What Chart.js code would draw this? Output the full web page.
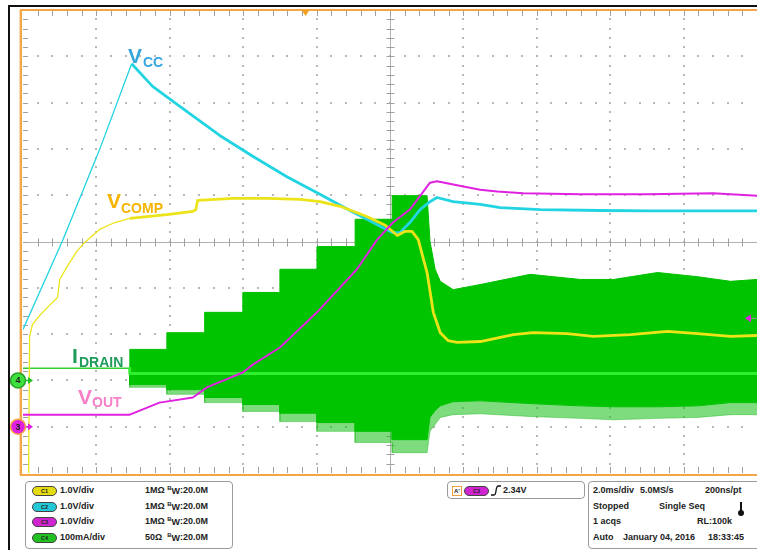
<!DOCTYPE html>
<html><head><meta charset="utf-8">
<script src="https://cdn.jsdelivr.net/npm/chart.js@4.4.0/dist/chart.umd.min.js"></script>
<style>
html,body{margin:0;padding:0;background:#fff;}
#wrap{position:relative;width:757px;height:550px;overflow:hidden;font-family:"Liberation Sans",Arial,sans-serif;}
#c{position:absolute;left:0;top:0;}
.lbl{position:absolute;font-weight:bold;white-space:nowrap;line-height:1;}
.box{position:absolute;border:1px solid #9a9a9a;border-radius:4px;background:#fff;box-sizing:border-box;}
.t{position:absolute;font-size:9px;font-weight:bold;color:#222;white-space:nowrap;line-height:1;}
.pill{position:absolute;width:23px;height:8px;border-radius:5px;border:1px solid #444;font-size:5.5px;font-weight:bold;text-align:center;line-height:8px;color:#222;box-sizing:content-box;}
</style></head>
<body>
<div id="wrap">
<canvas id="c" width="757" height="550"></canvas>
<div style="position:absolute;left:8px;top:5px;width:760px;height:2px;background:#111;"></div>
<div style="position:absolute;left:8px;top:5px;width:2px;height:545px;background:#111;"></div>

<div class="lbl" style="left:128px;top:45px;color:#35a6dc;font-size:21px;">V</div>
<div class="lbl" style="left:143px;top:55px;color:#35a6dc;font-size:14px;">CC</div>
<div class="lbl" style="left:107px;top:190px;color:#f6b400;font-size:21px;">V</div>
<div class="lbl" style="left:121px;top:201px;color:#f6b400;font-size:14px;">COMP</div>
<div class="lbl" style="left:72px;top:345px;color:#1f9c5c;font-size:21px;">I</div>
<div class="lbl" style="left:79px;top:355px;color:#1f9c5c;font-size:14px;">DRAIN</div>
<div class="lbl" style="left:78px;top:386px;color:#f77fc8;font-size:21px;">V</div>
<div class="lbl" style="left:92px;top:395px;color:#f77fc8;font-size:14px;">OUT</div>

<div class="box" style="left:25px;top:481px;width:208px;height:68px;"></div>
<div class="pill" style="left:32px;top:486px;background:#e4dc10;">C1</div>
<div class="pill" style="left:32px;top:502px;background:#22c8d6;">C2</div>
<div class="pill" style="left:32px;top:517px;background:#d024d0;">C3</div>
<div class="pill" style="left:32px;top:533px;background:#22c022;">C4</div>
<div class="t" style="left:60px;top:486px;">1.0V/div</div>
<div class="t" style="left:60px;top:502px;">1.0V/div</div>
<div class="t" style="left:60px;top:517px;">1.0V/div</div>
<div class="t" style="left:60px;top:533px;">100mA/div</div>
<div class="t" style="left:145px;top:486px;">1MΩ <span style="font-size:6px;position:relative;top:-3px;">B</span><span style="position:relative;top:1px;">W</span>:20.0M</div>
<div class="t" style="left:145px;top:502px;">1MΩ <span style="font-size:6px;position:relative;top:-3px;">B</span><span style="position:relative;top:1px;">W</span>:20.0M</div>
<div class="t" style="left:145px;top:517px;">1MΩ <span style="font-size:6px;position:relative;top:-3px;">B</span><span style="position:relative;top:1px;">W</span>:20.0M</div>
<div class="t" style="left:145px;top:533px;">50Ω &nbsp;<span style="font-size:6px;position:relative;top:-3px;">B</span><span style="position:relative;top:1px;">W</span>:20.0M</div>

<div class="box" style="left:447px;top:481px;width:138px;height:18px;"></div>
<div style="position:absolute;left:452px;top:486px;width:8px;height:8px;border:1px solid #f0a040;font-size:6px;font-weight:bold;line-height:8px;text-align:center;color:#222;">A'</div>
<div class="pill" style="left:464px;top:486px;background:#d024d0;">C3</div>
<svg style="position:absolute;left:491px;top:485px;" width="11" height="11"><path d="M0 10 L3 10 Q4.5 10 5 6 Q5.5 1 7.5 1 L10 1" stroke="#111" stroke-width="1.3" fill="none"/></svg>
<div class="t" style="left:503px;top:486px;">2.34V</div>

<div class="box" style="left:588px;top:481px;width:180px;height:68px;"></div>
<div class="t" style="left:593px;top:486px;">2.0ms/div</div>
<div class="t" style="left:640px;top:486px;">5.0MS/s</div>
<div class="t" style="left:705px;top:486px;">200ns/pt</div>
<div class="t" style="left:593px;top:502px;">Stopped</div>
<div class="t" style="left:659px;top:502px;">Single Seq</div>
<div style="position:absolute;left:740px;top:502px;width:2px;height:10px;background:#111;"></div>
<div style="position:absolute;left:738px;top:510px;width:6px;height:6px;border-radius:3px;background:#111;"></div>
<div class="t" style="left:593px;top:517px;">1 acqs</div>
<div class="t" style="left:697px;top:517px;">RL:100k</div>
<div class="t" style="left:593px;top:533px;">Auto</div>
<div class="t" style="left:623px;top:533px;">January 04, 2016</div>
<div class="t" style="left:708px;top:533px;">18:33:45</div>
</div>

<script>
// Time axis: ms (2 ms/div, 10 div). Vertical: screen divisions (1 V/div, 100 mA/div)
const vccT  = [0, 1.08, 2.09, 2.96, 3.53, 4.46, 5.36, 6.26, 7.19, 8.09, 8.91, 9.59, 10.08, 10.27, 10.54, 10.82, 11.09, 11.28, 11.72, 12.46, 13.0, 14.1, 15.73, 17.1, 18.46, 20];
const vccV  = [-1.90, 0.02, 1.99, 3.84, 3.35, 2.81, 2.29, 1.84, 1.40, 1.02, 0.67, 0.39, 0.19, 0.19, 0.41, 0.69, 0.86, 0.95, 0.86, 0.80, 0.73, 0.69, 0.67, 0.66, 0.66, 0.66];

const compT = [0, 0.15, 0.18, 0.26, 0.45, 0.72, 0.94, 1.0, 1.19, 1.46, 1.68, 2.09, 2.50, 2.91, 3.92, 4.63, 4.71, 4.76, 5.72, 6.65, 7.55, 8.09, 8.64, 9.37, 9.87, 10.2, 10.41, 10.6, 10.77, 10.9, 11.01, 11.18, 11.37, 11.58, 11.83, 12.46, 13.36, 13.9, 14.83, 15.54, 16.55, 17.56, 18.38, 19.28, 20];
const compV = [-5.3, -5.3, -2.05, -1.79, -1.60, -1.38, -1.21, -0.82, -0.56, -0.22, -0.02, 0.26, 0.41, 0.50, 0.58, 0.65, 0.69, 0.89, 0.93, 0.93, 0.91, 0.86, 0.76, 0.54, 0.35, 0.13, 0.22, 0.22, 0.04, -0.35, -0.67, -1.53, -1.97, -2.14, -2.18, -2.16, -2.01, -1.97, -1.99, -2.05, -2.01, -1.94, -1.99, -2.05, -2.03];

const voutT = [0, 2.91, 3.72, 4.63, 5.01, 5.99, 6.26, 7.0, 8.01, 9.1, 9.65, 10.08, 10.54, 11.09, 11.28, 12.0, 12.46, 12.92, 13.63, 15.19, 17.0, 18.8, 20];
const voutV = [-3.74, -3.74, -3.48, -3.37, -3.15, -2.83, -2.66, -2.29, -1.53, -0.60, 0.04, 0.41, 0.69, 1.27, 1.30, 1.19, 1.12, 1.08, 1.04, 1.02, 1.02, 1.04, 0.99];

const envT      = [2.91, 2.91, 3.92, 3.92, 4.95, 4.95, 5.99, 5.99, 7.0, 7.0, 8.01, 8.01, 9.05, 9.05, 10.06, 10.06, 11.01, 11.09, 11.23, 11.37, 11.72, 12.46, 13.82, 15.19, 16.09, 17.29, 18.38, 19.28, 20];
const idrTop    = [-2.74, -2.33, -2.33, -1.97, -1.97, -1.53, -1.53, -1.10, -1.10, -0.60, -0.60, -0.11, -0.11, 0.48, 0.48, 0.99, 0.99, 0.0, -0.60, -0.86, -1.04, -0.93, -0.71, -0.82, -0.82, -0.67, -0.76, -0.86, -0.82];
const idrBottom = [-2.74, -3.09, -3.09, -3.20, -3.20, -3.37, -3.37, -3.52, -3.52, -3.71, -3.71, -3.91, -3.91, -4.10, -4.10, -4.28, -4.28, -3.80, -3.65, -3.55, -3.46, -3.44, -3.50, -3.55, -3.57, -3.57, -3.55, -3.48, -3.48];
const idrSpike  = [-2.74, -3.15, -3.15, -3.30, -3.30, -3.48, -3.48, -3.67, -3.67, -3.89, -3.89, -4.10, -4.10, -4.34, -4.34, -4.56, -4.56, -4.10, -3.95, -3.80, -3.74, -3.72, -3.78, -3.82, -3.85, -3.82, -3.80, -3.74, -3.74];
const idrMidT = [0, 2.91, 2.91, 20];
const idrMidV = [-2.74, -2.74, -2.85, -2.85];

const gndC4 = -3, gndC3 = -4, trigLevelV = 2.34, trigTime = 7.70;

const pts = (t, v) => t.map((x, i) => ({x, y: v[i]}));

const scopeDecor = {
  id: 'scopeDecor',
  beforeDatasetsDraw(chart) {
    const {ctx, chartArea: a, scales: {x, y}} = chart;
    ctx.save();
    ctx.fillStyle = '#b8b8b8';
    for (let i = 1; i < 10; i++) {
      if (i === 5) continue;
      const px = Math.round(x.getPixelForValue(i * 2));
      for (let k = 1; k < 50; k++) {
        const py = Math.round(y.getPixelForValue(-5 + k * 0.2));
        ctx.fillRect(px - 1, py - 1, 2, 2);
      }
    }
    for (let j = 1; j < 10; j++) {
      if (j === 5) continue;
      const py = Math.round(y.getPixelForValue(-5 + j));
      for (let k = 1; k < 50; k++) {
        const px = Math.round(x.getPixelForValue(k * 0.4));
        ctx.fillRect(px - 1, py - 1, 2, 2);
      }
    }
    const cx = Math.round(x.getPixelForValue(10)) + 0.5;
    const cy = Math.round(y.getPixelForValue(0)) + 0.5;
    ctx.strokeStyle = '#b0b0b0'; ctx.lineWidth = 1;
    ctx.beginPath();
    ctx.moveTo(cx, a.top); ctx.lineTo(cx, a.bottom);
    ctx.moveTo(a.left, cy); ctx.lineTo(a.right, cy);
    ctx.stroke();
    ctx.strokeStyle = '#a0a0a0';
    ctx.beginPath();
    for (let k = 1; k < 50; k++) {
      const py = Math.round(y.getPixelForValue(-5 + k * 0.2)) + 0.5;
      ctx.moveTo(cx - 4, py); ctx.lineTo(cx + 4, py);
      ctx.moveTo(a.left, py); ctx.lineTo(a.left + 5, py);
      const px = Math.round(x.getPixelForValue(k * 0.4)) + 0.5;
      ctx.moveTo(px, cy - 4); ctx.lineTo(px, cy + 4);
      ctx.moveTo(px, a.top); ctx.lineTo(px, a.top + 6);
      ctx.moveTo(px, a.bottom); ctx.lineTo(px, a.bottom - 6);
    }
    ctx.stroke();
    ctx.restore();
  },
  afterDraw(chart) {
    const {ctx, chartArea: a, scales: {x, y}} = chart;
    ctx.save();
    // orange plot frame
    ctx.strokeStyle = '#f4a64a'; ctx.lineWidth = 2;
    ctx.beginPath();
    ctx.moveTo(a.right + 2, a.top); ctx.lineTo(a.left - 2, a.top);
    ctx.lineTo(a.left - 2, a.bottom + 2); ctx.lineTo(a.right + 2, a.bottom + 2);
    ctx.stroke();
    ctx.strokeStyle = 'rgba(244,166,74,0.45)'; ctx.lineWidth = 1;
    ctx.beginPath(); ctx.moveTo(a.left - 3.5, a.top); ctx.lineTo(a.left - 3.5, a.bottom + 2); ctx.stroke();
    // trigger time marker
    const tx = x.getPixelForValue(trigTime);
    ctx.fillStyle = '#f4a020';
    ctx.beginPath(); ctx.moveTo(tx - 4, a.top); ctx.lineTo(tx + 4, a.top); ctx.lineTo(tx, a.top + 6); ctx.closePath(); ctx.fill();
    // trigger level marker (C3)
    const ty = y.getPixelForValue(gndC3 + trigLevelV);
    ctx.strokeStyle = '#999'; ctx.lineWidth = 1;
    ctx.beginPath(); ctx.moveTo(a.right - 7, ty); ctx.lineTo(a.right, ty); ctx.stroke();
    ctx.fillStyle = '#e020e0';
    ctx.beginPath(); ctx.moveTo(a.right - 12, ty); ctx.lineTo(a.right - 6, ty - 4); ctx.lineTo(a.right - 6, ty + 4); ctx.closePath(); ctx.fill();
    // ground markers
    const mk = (val, fill, ring, txt, arrow) => {
      const py = y.getPixelForValue(val);
      ctx.strokeStyle = arrow; ctx.fillStyle = arrow; ctx.lineWidth = 1.5;
      ctx.beginPath(); ctx.moveTo(24, py); ctx.lineTo(29, py); ctx.stroke();
      ctx.beginPath(); ctx.moveTo(33, py); ctx.lineTo(28, py - 3.5); ctx.lineTo(28, py + 3.5); ctx.closePath(); ctx.fill();
      ctx.beginPath(); ctx.arc(18, py, 7.5, 0, Math.PI * 2);
      ctx.fillStyle = fill; ctx.fill();
      ctx.lineWidth = 1.5; ctx.strokeStyle = ring; ctx.stroke();
      ctx.fillStyle = '#222'; ctx.font = 'bold 9px "Liberation Sans", Arial';
      ctx.textAlign = 'center'; ctx.textBaseline = 'middle';
      ctx.fillText(txt, 18, py + 0.5);
    };
    mk(gndC4, '#3ee03e', '#2aa02a', '4', '#20c020');
    mk(gndC3, '#e020e0', '#f4a64a', '3', '#e020e0');
    ctx.restore();
  }
};

new Chart(document.getElementById('c'), {
  type: 'line',
  data: {
    datasets: [
      {label: 'IDRAIN envelope top', data: pts(envT, idrTop), borderColor: '#00c000', borderWidth: 1, backgroundColor: '#00c400', fill: '+1', order: 10},
      {label: 'IDRAIN envelope bottom', data: pts(envT, idrBottom), borderColor: '#00c000', borderWidth: 1, fill: false, order: 11},
      {label: 'IDRAIN spikes', data: pts(envT, idrSpike), borderColor: 'rgba(40,190,40,0.5)', borderWidth: 1, backgroundColor: 'rgba(20,190,20,0.55)', fill: '-1', order: 12},
      {label: 'IDRAIN', data: pts(idrMidT, idrMidV), borderColor: '#30e830', borderWidth: 2,
        segment: {borderWidth: c => c.p0.parsed.x < 2.9 ? 1.5 : 3, borderColor: c => c.p0.parsed.x < 2.9 ? '#30d030' : '#30ee30'}, fill: false, order: 9},
      {label: 'VCC', data: pts(vccT, vccV), borderColor: '#22d4e2', borderWidth: 2.6,
        segment: {borderWidth: c => c.p0.parsed.x < 2.9 ? 1.3 : 2.8}, fill: false, order: 3},
      {label: 'VCOMP', data: pts(compT, compV), borderColor: '#ece418', borderWidth: 2.6,
        segment: {borderWidth: c => c.p0.parsed.x < 2.9 ? 1.3 : 2.8}, fill: false, order: 2},
      {label: 'VOUT', data: pts(voutT, voutV), borderColor: '#e022e0', borderWidth: 2, fill: false, order: 1}
    ]
  },
  options: {
    responsive: false,
    animation: false,
    events: [],
    layout: {padding: {left: 23, right: 0, top: 10, bottom: 77}},
    plugins: {legend: {display: false}, tooltip: {enabled: false}},
    scales: {
      x: {type: 'linear', min: 0, max: 20, display: false},
      y: {type: 'linear', min: -5, max: 5, display: false}
    },
    elements: {point: {radius: 0}, line: {tension: 0, borderJoinStyle: 'round'}}
  },
  plugins: [scopeDecor]
});
</script>
</body></html>
